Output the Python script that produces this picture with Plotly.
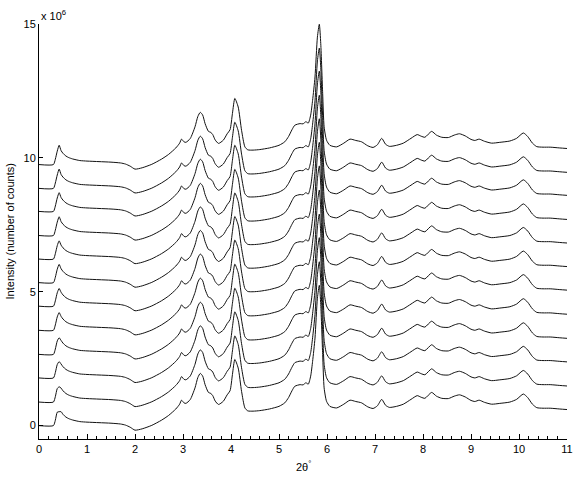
import plotly.graph_objects as go

two_theta = [
    0.00, 0.30, 0.34, 0.38, 0.42, 0.46, 0.50, 0.56, 0.62, 0.70, 0.85, 1.00,
    1.25, 1.50, 1.70, 1.80, 1.90, 2.00, 2.15, 2.35, 2.55, 2.70, 2.85, 2.93,
    2.97, 3.02, 3.06, 3.15, 3.25, 3.31, 3.36, 3.41, 3.46, 3.53, 3.58, 3.62,
    3.67, 3.74, 3.84, 3.92, 3.98, 4.03, 4.08, 4.15, 4.22, 4.29, 4.35, 4.46,
    4.60, 4.80, 5.00, 5.12, 5.20, 5.27, 5.33, 5.44, 5.50, 5.56, 5.61, 5.66,
    5.70, 5.75, 5.80, 5.84, 5.87, 5.91, 5.94, 5.99, 6.06, 6.20, 6.35, 6.48,
    6.60, 6.72, 6.85, 6.96, 7.05, 7.14, 7.22, 7.30, 7.45, 7.59, 7.75, 7.88,
    7.96, 8.04, 8.18, 8.28, 8.39, 8.53, 8.65, 8.76, 8.88, 9.00, 9.08, 9.17,
    9.28, 9.43, 9.60, 9.81, 9.95, 10.09, 10.18, 10.28, 10.37, 10.50, 10.65,
    10.85, 11.00,
]

# intensity above each pattern's own baseline (x 10^6 counts)
profile = [
    0.00, 0.00, 0.20, 0.50, 0.65, 0.52, 0.42, 0.32, 0.26, 0.21, 0.15, 0.13,
    0.11, 0.09, 0.06, 0.02, -0.06, -0.17, -0.12, 0.01, 0.20, 0.38, 0.62, 0.80,
    0.95, 0.85, 0.83, 0.97, 1.41, 1.80, 1.95, 1.85, 1.53, 1.24, 1.20, 1.12,
    0.92, 0.79, 0.91, 1.15, 1.30, 1.91, 2.47, 2.15, 1.28, 0.66, 0.55, 0.54,
    0.56, 0.62, 0.72, 0.85, 1.05, 1.30, 1.47, 1.53, 1.52, 1.60, 1.55, 1.85,
    2.40, 3.27, 4.76, 5.24, 4.52, 2.65, 1.41, 0.91, 0.72, 0.66, 0.80, 0.95,
    0.90, 0.85, 0.70, 0.64, 0.74, 0.98, 0.76, 0.68, 0.72, 0.80, 0.98, 1.12,
    1.06, 1.02, 1.24, 1.10, 1.02, 1.01, 1.10, 1.15, 1.07, 0.94, 0.90, 0.95,
    0.87, 0.80, 0.83, 0.88, 0.98, 1.18, 1.05, 0.80, 0.67, 0.65, 0.65,
    0.62, 0.60,
]

# stacked patterns, bottom to top: baseline offset and height of the 0.42 deg peak
offsets = [0.00, 0.88, 1.78, 2.66, 3.56, 4.46, 5.34, 6.22, 7.10, 8.00, 8.86, 9.75]
first_peak = [0.52, 0.57, 0.61, 0.62, 0.66, 0.66, 0.68, 0.68, 0.70, 0.70, 0.72, 0.72]

x_ticks = list(range(0, 12))
y_ticks = [0, 5, 10, 15]

FONT = "Liberation Sans, Arial, Helvetica, sans-serif"
TXT = dict(family=FONT, size=11, color="black")

fig = go.Figure()

peak_idx = two_theta.index(0.42)
for off, pk in zip(offsets, first_peak):
    rel = list(profile)
    rel[peak_idx] = pk
    fig.add_trace(go.Scatter(
        x=two_theta,
        y=[v + off for v in rel],
        mode="lines",
        line=dict(color="#111111", width=1, shape="spline", smoothing=0.6),
        showlegend=False,
        hoverinfo="skip",
    ))

# exponent label above the y axis (MATLAB style)
fig.add_annotation(
    text="x 10<sup>6</sup>", xref="paper", yref="paper", x=0, y=1,
    xanchor="left", yanchor="bottom", showarrow=False, font=TXT,
)
# axis titles placed as in the original
fig.add_annotation(
    text="Intensity (number of counts)", textangle=-90,
    xref="paper", yref="paper", x=-0.055, y=0.5,
    xanchor="center", yanchor="middle", showarrow=False, font=TXT,
)
fig.add_annotation(
    text="2θ<sup>°</sup>", xref="paper", yref="paper", x=0.5, y=-0.065,
    xanchor="center", yanchor="middle", showarrow=False, font=TXT,
)

fig.update_layout(
    width=578, height=477,
    margin=dict(l=39, r=11, t=24, b=38),
    plot_bgcolor="white", paper_bgcolor="white",
    font=TXT,
    xaxis=dict(
        range=[0, 11], tickvals=x_ticks, ticks="inside", ticklen=5,
        tickcolor="black", showline=True, linecolor="black", linewidth=1,
        showgrid=False, zeroline=False, automargin=False,
        minor=dict(dtick=0.2, ticks="inside", ticklen=3, tickcolor="black",
                   showgrid=False),
    ),
    yaxis=dict(
        range=[-0.5, 15], tickvals=y_ticks, ticks="inside", ticklen=4,
        tickcolor="black", showline=True, linecolor="black", linewidth=1,
        showgrid=False, zeroline=False, automargin=False,
    ),
)

# page body margin would push the 578x477 figure out of the window
fig.write_html(
    "out.html",
    config={"displayModeBar": False},
    post_script="document.body.style.margin='0';",
)
